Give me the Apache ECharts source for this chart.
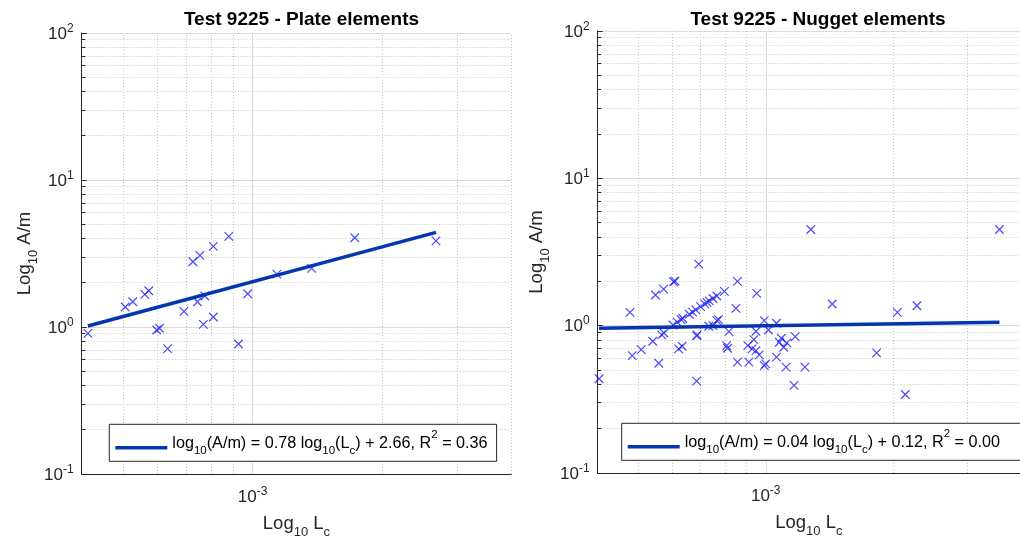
<!DOCTYPE html>
<html><head><meta charset="utf-8">
<script src="https://cdn.jsdelivr.net/npm/echarts@6/dist/echarts.min.js"></script>
<style>html,body{margin:0;padding:0;background:#fff}#c{width:1020px;height:547px}</style>
</head><body><div id="c"></div>
<script>
// ---------------- data ----------------
const titles = ['Test 9225 - Plate elements', 'Test 9225 - Nugget elements'];

const plateLc = [4.135e-4, 5.05e-4, 5.26e-4, 5.61e-4, 5.73e-4, 5.98e-4, 6.07e-4, 6.34e-4, 6.92e-4, 7.26e-4, 7.54e-4, 7.44e-4, 7.74e-4, 7.68e-4, 8.10e-4, 8.10e-4, 8.80e-4, 9.27e-4, 9.74e-4, 1.139e-3, 1.372e-3, 1.729e-3, 2.673e-3];
const plateAm = [0.906, 1.367, 1.486, 1.668, 1.765, 0.954, 0.980, 0.712, 1.278, 2.777, 3.070, 1.486, 1.624, 1.043, 1.169, 3.533, 4.132, 0.766, 1.684, 2.291, 2.505, 4.044, 3.858];

const nuggetLc = [4.03e-4, 4.77e-4, 4.83e-4, 5.07e-4, 5.40e-4, 5.48e-4, 5.58e-4, 5.67e-4, 5.74e-4, 5.73e-4,
  6.05e-4, 6.10e-4, 6.22e-4, 6.34e-4, 6.86e-4, 6.88e-4, 6.86e-4, 6.94e-4, 8.57e-4, 9.52e-4,
  8.50e-4, 1.278e-3, 3.576e-3, 1.437e-3, 2.05e-3, 2.28e-3, 1.83e-3, 2.14e-3, 1.167e-3, 1.117e-3,
  1.238e-3, 9.92e-4, 1.0e-3, 1.06e-3, 8.57e-4, 9.12e-4, 8.08e-4, 8.12e-4, 8.18e-4, 9.07e-4,
  9.37e-4, 9.48e-4, 9.28e-4, 9.48e-4, 9.65e-4, 9.92e-4, 1.015e-3, 1.06e-3, 1.077e-3, 1.089e-3,
  1.103e-3, 1.122e-3, 1.174e-3, 7.33e-4, 7.50e-4, 7.66e-4, 7.73e-4, 7.98e-4, 6.03e-4, 6.17e-4,
  6.30e-4, 6.36e-4, 6.59e-4, 6.71e-4, 6.83e-4, 7.01e-4, 7.17e-4, 7.26e-4, 7.35e-4, 7.50e-4, 7.66e-4];
const nuggetAm = [0.436, 1.232, 0.626, 0.688, 0.784, 1.614, 0.556, 0.865, 0.892, 1.772,
  1.986, 2.007, 0.695, 0.725, 0.852, 0.865, 0.420, 2.617, 1.998, 1.657,
  1.311, 4.494, 4.494, 1.403, 1.232, 1.366, 0.653, 0.341, 0.393, 0.523,
  0.523, 0.536, 0.550, 0.611, 0.565, 0.565, 0.732, 0.703, 0.911, 0.732,
  0.804, 0.917, 0.695, 0.677, 0.633, 1.081, 0.935, 1.038, 0.772, 0.822,
  0.714, 0.764, 0.842, 0.991, 1.000, 1.081, 1.098, 1.710, 1.011, 1.056,
  1.100, 1.119, 1.196, 1.236, 1.279, 1.347, 1.405, 1.438, 1.474, 1.528, 1.591];

const plateFitLc = [4.135e-4, 2.673e-3];
const plateFitAm = [1.016, 4.40];
const nuggetFitLc = [4.03e-4, 3.576e-3];
const nuggetFitAm = [0.960, 1.054];

const plateLegend = '{n|log}{s|10}{n|(A/m) = 0.78 log}{s|10}{n|(L}{s|c}{n|) + 2.66, R}{u|2}{n| = 0.36}';
const nuggetLegend = '{n|log}{s|10}{n|(A/m) = 0.04 log}{s|10}{n|(L}{s|c}{n|) + 0.12, R}{u|2}{n| = 0.00}';

const xRange = [4e-4, 4e-3];
const yRange = [0.1, 100];
const xMinorGrid = [5e-4, 6e-4, 7e-4, 8e-4, 9e-4, 2e-3, 3e-3, 4e-3];
const xMajorGrid = [1e-3];
const yMinorGrid = [0.2, 0.3, 0.4, 0.5, 0.6, 0.7, 0.8, 0.9, 2, 3, 4, 5, 6, 7, 8, 9, 20, 30, 40, 50, 60, 70, 80, 90];

// ---------------- chart ----------------
const FONT = "'Liberation Sans', Arial, Helvetica, sans-serif";
const AX = '#262626';
const zip = (a, b) => a.map((v, i) => [v, b[i]]);
const CROSS = 'path://M0 0L10 10M10 0L0 10';

function powLabel(v) {
  const l = Math.log10(v), e = Math.round(l);
  if (Math.abs(l - e) > 1e-6) return '';
  return '{n|10}{u|' + e + '}';
}
const tickRich = {
  n: { fontSize: 17, lineHeight: 19, verticalAlign: 'bottom', color: AX, fontFamily: FONT },
  u: { fontSize: 12, lineHeight: 13, padding: [0, 0, 8, 0], verticalAlign: 'bottom', color: AX, fontFamily: FONT }
};
const nameRich = {
  n: { fontSize: 18.5, lineHeight: 21, padding: [0, 0, 5.5, 0], verticalAlign: 'bottom', color: AX, fontFamily: FONT },
  s: { fontSize: 13, lineHeight: 14, verticalAlign: 'bottom', color: AX, fontFamily: FONT }
};
const legendRich = {
  n: { fontSize: 16.2, lineHeight: 18, padding: [0, 0, 5, 0], verticalAlign: 'bottom', color: '#000', fontFamily: FONT },
  s: { fontSize: 11.5, lineHeight: 12, verticalAlign: 'bottom', color: '#000', fontFamily: FONT },
  u: { fontSize: 11.5, lineHeight: 12, padding: [0, 0, 16, 0], verticalAlign: 'bottom', color: '#000', fontFamily: FONT }
};

const grids = [
  { left: 81.7, top: 33, width: 429.5, height: 441 },
  { left: 597.7, top: 31, width: 431.9, height: 442 }
];

function xAxisDef(i) {
  return {
    type: 'log', logBase: 10, gridIndex: i, min: xRange[0], max: xRange[1],
    axisLine: { show: true, onZero: false, lineStyle: { color: AX, width: 1 } },
    axisTick: { show: false },
    splitLine: { show: false },
    axisLabel: { formatter: powLabel, margin: 13, rich: tickRich, showMinLabel: false, showMaxLabel: false },
    name: '{n|Log}{s|10}{n| L}{s|c}', nameLocation: 'middle', nameGap: 44,
    nameTextStyle: { rich: nameRich }
  };
}
function yAxisDef(i, gap) {
  return {
    type: 'log', logBase: 10, gridIndex: i, min: yRange[0], max: yRange[1],
    axisLine: { show: true, onZero: false, lineStyle: { color: AX, width: 1 } },
    axisTick: { show: true, inside: true, length: 5, lineStyle: { color: AX } },
    splitLine: { show: true, lineStyle: { color: '#dcdcdc', width: 1 } },
    axisLabel: { formatter: powLabel, margin: 8, rich: tickRich },
    name: '{n|Log}{s|10}{n| A/m}', nameLocation: 'middle', nameGap: gap, nameRotate: 90,
    nameTextStyle: { rich: nameRich }
  };
}
function gridSeries(i) {
  const data = [];
  const dotted = { color: '#c4c4c4', type: [1, 2], width: 1 };
  xMinorGrid.forEach(v => data.push([{ coord: [v, yRange[0]], lineStyle: dotted }, { coord: [v, yRange[1]] }]));
  yMinorGrid.forEach(v => data.push([{ coord: [xRange[0], v], lineStyle: dotted }, { coord: [xRange[1], v] }]));
  xMajorGrid.forEach(v => data.push([{ coord: [v, yRange[0]], lineStyle: { color: '#dcdcdc', type: 'solid', width: 1 } }, { coord: [v, yRange[1]] }]));
  // short inside minor ticks on the y axis (MATLAB style)
  const tickEnd = xRange[0] * Math.pow(10, 3.5 / 430);
  yMinorGrid.forEach(v => data.push([{ coord: [xRange[0], v], lineStyle: { color: AX, type: 'solid', width: 1 } }, { coord: [tickEnd, v] }]));
  return {
    type: 'scatter', name: 'grid' + i, xAxisIndex: i, yAxisIndex: i, data: [], z: 0, silent: true,
    markLine: {
      silent: true, symbol: ['none', 'none'], animation: false, z: 0, zlevel: 0,
      label: { show: false },
      lineStyle: dotted,
      emphasis: { disabled: true },
      data: data
    }
  };
}
function scatterSeries(i, lc, am) {
  return {
    type: 'scatter', name: 'pts' + i, xAxisIndex: i, yAxisIndex: i, z: 3,
    data: zip(lc, am), symbol: CROSS, symbolSize: 8.5,
    itemStyle: { color: 'none', borderColor: '#1a1aff', borderWidth: 1.2 },
    emphasis: { disabled: true }
  };
}
function fitSeries(i, name, lc, am) {
  return {
    type: 'line', name: name, xAxisIndex: i, yAxisIndex: i, z: 4,
    data: zip(lc, am), showSymbol: false, symbol: 'none', color: '#0535b0',
    lineStyle: { width: 3.5, color: '#0535b0' }, emphasis: { disabled: true }
  };
}
function legendDef(name, left, top, pad) {
  return {
    data: [name], left: left, top: top, icon: 'rect', itemWidth: 52, itemHeight: 3.5,
    padding: pad, borderColor: AX, borderWidth: 1, backgroundColor: '#fff', borderRadius: 0,
    selectedMode: false, textStyle: { rich: legendRich }, z: 50,
    formatter: n => (n === 'plateFit' ? plateLegend : nuggetLegend)
  };
}

const chart = echarts.init(document.getElementById('c'), null, { renderer: 'canvas' });
chart.setOption({
  animation: false,
  backgroundColor: '#fff',
  title: [
    { text: titles[0], left: 296.5, top: 5, textAlign: 'center', textStyle: { fontSize: 19, fontWeight: 'bold', color: '#000', fontFamily: FONT } },
    { text: titles[1], left: 813, top: 5, textAlign: 'center', textStyle: { fontSize: 19, fontWeight: 'bold', color: '#000', fontFamily: FONT } }
  ],
  grid: grids,
  xAxis: [xAxisDef(0), xAxisDef(1)],
  yAxis: [yAxisDef(0, 42), yAxisDef(1, 46)],
  legend: [
    legendDef('plateFit', 109.3, 424.3, [4.5, 9, 4.5, 6]),
    legendDef('nuggetFit', 621.7, 423.3, [4.5, 22, 4.5, 6])
  ],
  series: [
    gridSeries(0), gridSeries(1),
    scatterSeries(0, plateLc, plateAm), scatterSeries(1, nuggetLc, nuggetAm),
    fitSeries(0, 'plateFit', plateFitLc, plateFitAm), fitSeries(1, 'nuggetFit', nuggetFitLc, nuggetFitAm)
  ]
});
</script></body></html>
